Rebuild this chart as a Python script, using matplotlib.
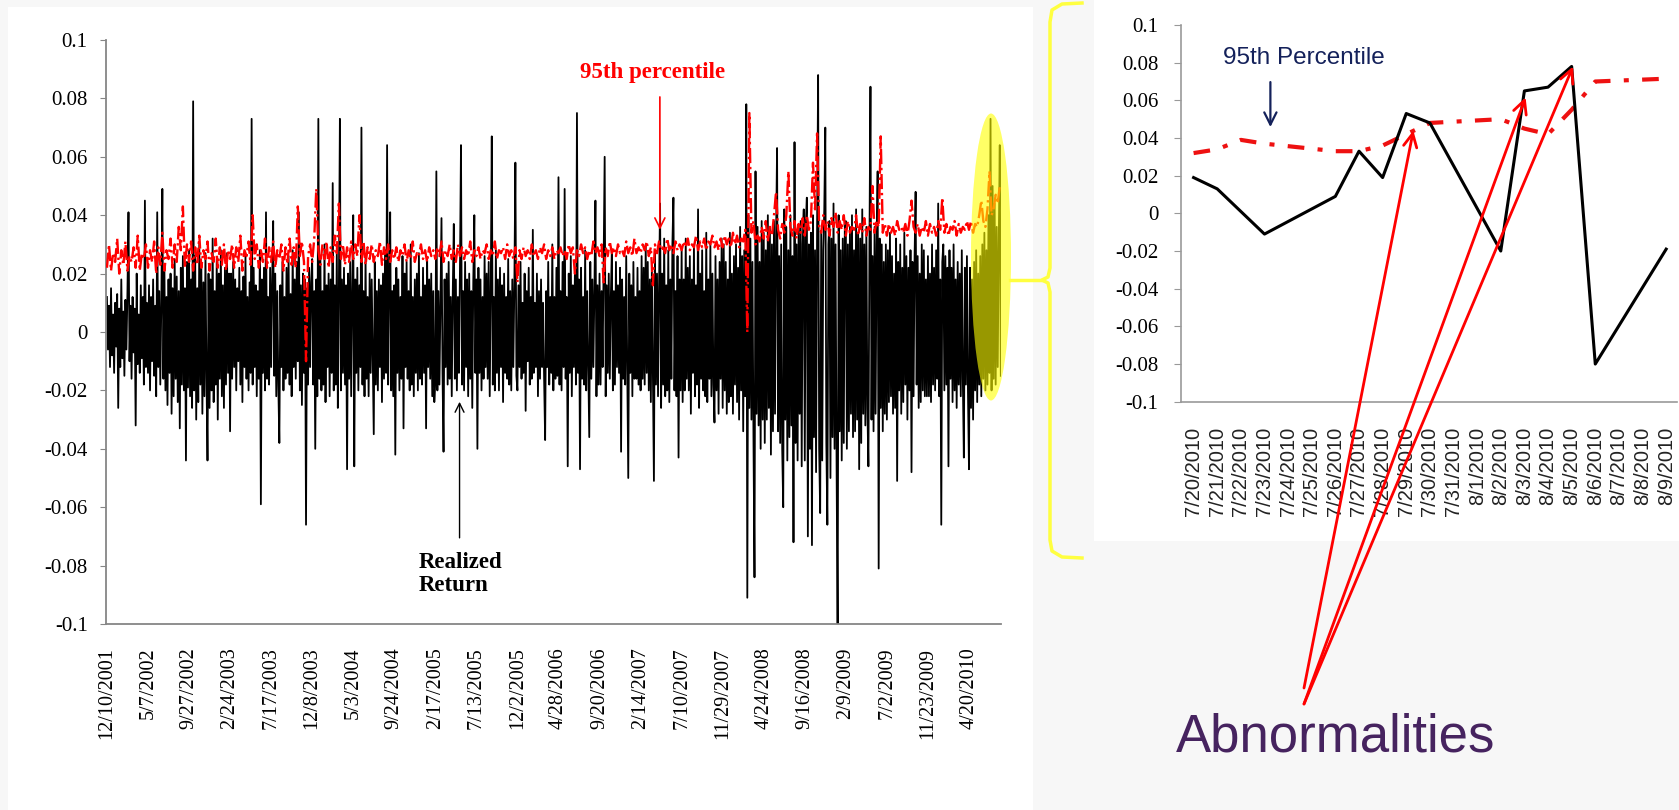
import numpy as np
import matplotlib.pyplot as plt
from matplotlib.patches import Ellipse, Rectangle
from matplotlib.lines import Line2D

W, H = 1679, 810

# ---------- data: left chart, read in 1/1000 ----------
# realized return, about 40 samples per tick interval
ret_rows = [
    [12, -6, 9, -12, 15, -8, 6, -14, 10, -5, 13, -26, 8, -12, 18, -9, 7, -15, 11, -6,
     14, 41, -10, 9, -16, 12, -7, 8, -32, 20, -11, 6, -14, 16, -9, 12, -18, 45, -12, 10],
    [-14, 16, -20, 12, -10, 18, -15, 9, -22, 41, -12, 14, -18, 10, 49, -16, 22, -20, 12, -25,
     18, -14, 20, -28, 15, -22, 25, -16, 19, -24, 14, -33, 22, -18, 26, -20, 15, -44, 24, -19],
    [28, -22, 18, -26, 79, -20, 26, -30, 15, -24, 30, -18, 22, -28, 17, -22, 27, -15, -44, 20,
     -26, 18, -20, 32, -24, 14, -18, 25, -30, 20, -16, 28, -22, 16, -26, 22, -18, 27, -14, 20],
    [-34, 20, -16, 24, -12, 18, -20, 15, -10, 22, -18, 14, -24, 19, -12, 26, -16, 12, -20, 17,
     -14, 73, -18, 22, -12, 16, -22, 14, -16, 28, -59, 18, -14, 22, -20, 41, -16, 12, -18, 22],
    [-12, 18, 38, -15, 20, -22, 14, -18, -38, 16, -12, 24, -20, 12, -16, 22, -14, 26, -18, 13,
     -22, 28, -12, 18, -16, 24, -10, 41, -20, 16, -25, 20, -14, 18, -66, 15, -18, 22, -12, 17],
    [25, -18, 14, -40, 18, -22, 73, -16, 26, -20, 14, -18, 30, -24, 16, -12, 20, -22, 18, -14,
     51, -20, 16, -18, 28, -26, 14, 73, -20, 18, -14, 22, -18, 16, -47, 20, -16, 24, -22, 14],
    [40, -46, 18, -14, 22, -20, 16, -12, 70, -18, 14, -22, 26, -16, 12, -22, 20, -14, 18, -10,
     -35, 24, -18, 14, -20, 18, -12, 16, -24, 20, -16, 28, -14, 64, -18, 16, 41, -20, 14, -22],
    [16, -42, 22, -14, 18, -20, 12, -16, 26, -33, 20, -12, 24, -16, 14, -20, 30, -18, 12, -22,
     18, -14, 20, -20, 27, -16, 12, -18, 22, -14, 16, -33, 25, -12, 18, -16, 20, -22, 14, -24],
    [-16, 55, -20, 14, -18, 12, 39, -14, -41, 18, -12, 20, -18, 24, -16, 12, -22, 14, 37, -16,
     18, -20, 12, -14, 22, 64, -18, 14, -20, 24, -12, 18, -22, 20, -16, 14, -26, 18, 40, -14],
    [18, -40, 22, -14, 18, -20, 12, -16, 26, -12, 20, -16, 24, -22, 14, 67, -18, 12, -20, 28,
     -14, 18, -20, 22, -12, 16, -24, 20, -14, 12, -16, 25, -18, 14, -20, 18, -12, 16, 58, -15],
    [-20, 16, -12, 24, -16, 10, -14, 20, -27, 14, -10, 22, -18, 12, -16, 35, -14, 10, -12, 20,
     -22, 14, -16, 18, -12, 10, -16, -37, 14, -12, 24, -18, 12, -14, 30, -20, 12, -16, 22, -15],
    [53, -18, 14, -20, 24, -12, 49, -16, 12, -46, 20, -14, 26, -22, 16, -12, 20, -18, 75, -14,
     18, -47, 22, -16, 12, -18, 28, -20, 14, -12, -36, 24, -16, 18, -12, 14, 45, -22, 16, -18],
    [20, -18, 14, -12, 26, 60, -22, 16, -14, 20, -16, 12, 28, -20, 14, -18, 24, -12, 16, -14,
     22, -41, 18, -16, 12, -18, 26, -12, -50, 20, -14, 16, -22, 24, -16, 12, -16, 22, -18, 14],
    [-20, 26, -16, 22, -18, 30, -14, 24, -20, 18, -24, 22, -16, -51, 28, -18, 20, -22, 16, 44,
     -26, 20, -18, 32, -22, 16, -20, 28, -24, 18, -16, 30, 46, -20, 14, -22, 26, -43, 18, -20],
    [28, -24, 18, -20, 32, -16, 22, -20, 26, -28, 18, -14, 30, -22, 16, -18, 42, -26, 20, -16,
     28, -20, 14, -22, 34, -24, 18, -16, 30, -22, 20, -18, -31, 26, -20, 18, -28, 24, -16, 32],
    [-26, 30, -20, 24, -28, 18, -24, 34, -22, 20, -28, 26, -18, 30, -24, 22, -30, 36, -20, 26,
     -34, 28, -22, 78, -91, 40, -26, 32, -30, 24, -36, -84, 55, -28, 36, -32, 24, -40, 38, -30],
    [34, -38, 28, -30, 40, -26, 36, -42, 30, -34, 38, -28, 32, 63, -34, 26, -38, 30, -40, -60,
     42, -30, 36, -44, 28, -36, 40, -32, 26, -72, 65, -38, 30, -44, 36, -28, 38, -46, 30, 42],
    [-44, 36, 46, -70, 30, -40, 34, -73, 40, -36, 28, -48, 36, 88, -40, -62, 34, -44, 28, 42,
     70, -38, -66, 30, 38, -50, 32, -36, 44, -40, 30, -46, -102, 40, -34, 28, -44, 32, -38, 36],
    [38, -40, 30, -34, 36, -28, 40, -36, 28, -34, 42, -30, 34, -47, 32, -38, 42, -28, 30, -32,
     36, -26, -46, 30, 84, -30, 26, -34, 36, -28, 30, 55, -81, 32, -26, 30, -34, 24, -28, 30],
    [-30, 28, -24, 34, -22, 26, -28, 20, -26, 32, -51, 24, -20, 30, -28, 22, -24, 34, -18, 26,
     -30, 22, -20, 28, -48, 24, -22, 26, 48, -18, 26, -26, 20, -24, 30, -20, 28, -22, 18, -22],
    [26, -22, 20, -24, 30, -18, 22, -20, 28, -16, 44, -22, 18, -66, 24, 30, -20, 26, -18, 22,
     -46, 28, -16, 22, -24, 30, -20, 18, -26, 24, -18, 20, -22, 28, -16, -43, 22, -18, 26, -20],
    [-47, 22, -26, 18, -30, 24, -20, 28, -24, 20, -18, 26, -22, 30, -16, 34, -20, 28, -18, 40,
     -14, 73, -20, 50, -16, 44, -18, 36, -12, 30, 64, -15],
]
# 95th percentile, about 20 samples per tick interval
pct_rows = [
    [22, 30, 21, 27, 24, 32, 20, 28, 23, 31, 21, 26, 24, 29, 22, 33, 21, 27, 25, 30],
    [22, 28, 24, 31, 20, 29, 23, 34, 21, 28, 25, 32, 22, 30, 24, 36, 28, 43, 22, 30],
    [24, 31, 21, 29, 23, 33, 22, 28, 25, 31, 21, 27, 24, 32, 22, 29, 23, 30, 21, 28],
    [25, 30, 22, 29, 24, 33, 21, 28, 26, 31, 23, 40, 25, 30, 22, 28, 24, 32, 22, 29],
    [24, 31, 22, 28, 25, 30, 21, 29, 24, 32, 23, 29, 22, 43, 26, 31, 24, -10, 26, 30],
    [24, 32, 49, 28, 23, 30, 25, 31, 22, 29, 24, 33, 27, 44, 25, 30, 23, 29, 24, 31],
    [25, 30, 26, 40, 24, 31, 23, 29, 25, 30, 24, 28, 26, 31, 23, 29, 25, 30, 24, 28],
    [25, 29, 24, 28, 26, 30, 24, 28, 25, 31, 24, 27, 26, 30, 25, 28, 24, 29, 26, 28],
    [25, 29, 26, 31, 24, 28, 26, 30, 25, 28, 24, 30, 26, 29, 25, 28, 26, 31, 24, 28],
    [26, 29, 25, 28, 27, 30, 25, 28, 26, 31, 25, 28, 27, 29, 25, 30, 26, 28, 25, 29],
    [17, 28, 25, 29, 26, 28, 25, 30, 26, 28, 25, 29, 27, 30, 25, 28, 26, 29, 25, 28],
    [27, 29, 26, 28, 25, 30, 27, 29, 20, 28, 26, 30, 27, 29, 25, 28, 26, 31, 27, 29],
    [26, 30, 17, 29, 26, 31, 27, 29, 26, 30, 27, 28, 26, 31, 27, 29, 26, 32, 27, 29],
    [27, 30, 28, 31, 26, 29, 16, 30, 27, 31, 28, 29, 27, 32, 28, 30, 27, 31, 28, 30],
    [28, 31, 29, 32, 28, 30, 29, 33, 28, 31, 29, 32, 28, 31, 30, 33, 29, 31, 28, 32],
    [29, 33, 30, 32, 29, 34, 30, 33, 29, 32, 31, 35, 0, 75, 34, 38, 30, 33, 31, 36],
    [32, 38, 31, 36, 33, 40, 48, 35, 32, 37, 34, 40, 55, 36, 33, 38, 32, 37, 34, 39],
    [33, 40, 35, 38, 58, 42, 68, 36, 34, 40, 35, 38, 33, 39, 36, 41, 34, 38, 35, 40],
    [33, 38, 34, 36, 35, 40, 33, 37, 34, 39, 33, 36, 35, 50, 34, 38, 36, 67, 34, 37],
    [33, 37, 34, 36, 33, 38, 35, 36, 34, 37, 33, 38, 45, 36, 34, 37, 33, 36, 34, 38],
    [33, 37, 34, 36, 33, 38, 35, 46, 34, 37, 33, 36, 35, 38, 33, 37, 34, 36, 35, 38],
    [35, 38, 34, 37, 36, 40, 45, 38, 36, 42, 55, 40, 42, 47, 44, 50],
]
tick_dates = ['12/10/2001', '5/7/2002', '9/27/2002', '2/24/2003', '7/17/2003',
              '12/8/2003', '5/3/2004', '9/24/2004', '2/17/2005', '7/13/2005',
              '12/2/2005', '4/28/2006', '9/20/2006', '2/14/2007', '7/10/2007',
              '11/29/2007', '4/24/2008', '9/16/2008', '2/9/2009', '7/2/2009',
              '11/23/2009', '4/20/2010']

# ---------- data: right chart (zoom on 7/20/2010 - 8/9/2010) ----------
zoom_dates = ['7/20/2010', '7/21/2010', '7/22/2010', '7/23/2010', '7/24/2010',
              '7/25/2010', '7/26/2010', '7/27/2010', '7/28/2010', '7/29/2010',
              '7/30/2010', '7/31/2010', '8/1/2010', '8/2/2010', '8/3/2010',
              '8/4/2010', '8/5/2010', '8/6/2010', '8/7/2010', '8/8/2010', '8/9/2010']
zoom_ret = [0.019, 0.013, 0.001, -0.011, None, None, 0.009, 0.033, 0.019, 0.053,
            0.048, None, None, -0.020, 0.065, 0.067, 0.078, -0.080, None, None, -0.019]
zoom_pct = [0.032, 0.034, 0.039, 0.037, None, None, 0.033, 0.033, 0.036, 0.042,
            0.048, None, None, 0.050, 0.045, 0.042, 0.055, 0.070, None, None, 0.0715]

yticks = [-0.1, -0.08, -0.06, -0.04, -0.02, 0, 0.02, 0.04, 0.06, 0.08, 0.1]
ytick_labels = ['-0.1', '-0.08', '-0.06', '-0.04', '-0.02', '0',
                '0.02', '0.04', '0.06', '0.08', '0.1']

ret = np.concatenate([np.array(r, float) for r in ret_rows]) / 1000
pct = np.concatenate([np.array(r, float) for r in pct_rows]) / 1000
x_ret = np.arange(len(ret)) / 40
x_pct = np.arange(len(pct)) / 20


def fx(px):
    return px / W


def fy(py):
    return 1 - py / H


fig = plt.figure(figsize=(W / 100, H / 100), dpi=100, facecolor='#f7f7f7')

# white panels
fig.add_artist(Rectangle((fx(8), 0), fx(1033 - 8), 1 - 7 / H, transform=fig.transFigure,
                         facecolor='white', edgecolor='none', zorder=-10))
fig.add_artist(Rectangle((fx(1094), fy(541)), fx(W - 1094), 541 / H, transform=fig.transFigure,
                         facecolor='white', edgecolor='none', zorder=-10))

# ---------- left chart ----------
ax = fig.add_axes([fx(105.7), fy(624), fx(1001 - 105.7), (624 - 40) / H])
ax.set_facecolor('none')
ax.plot(x_ret, ret, color='black', lw=1.3, zorder=2)
ax.plot(x_pct, pct, color='red', ls='-.', lw=1.7, zorder=3)
ax.set_xlim(-0.03, 21.78)
ax.set_ylim(-0.1, 0.1)
ax.set_yticks(yticks)
ax.set_yticklabels(ytick_labels, family='Liberation Serif', fontsize=15)
ax.set_xticks(range(len(tick_dates)))
ax.set_xticklabels(tick_dates, rotation=90, family='Liberation Serif', fontsize=14.5)
ax.tick_params(axis='x', length=0, pad=17)
ax.tick_params(axis='y', length=4, pad=9, color='#868686')
for s in ['top', 'right']:
    ax.spines[s].set_visible(False)
for s in ['left', 'bottom']:
    ax.spines[s].set_color('#868686')
    ax.spines[s].set_linewidth(1.3)

ax.text(13.28, 0.0887, '95th percentile', color='red', fontsize=16.5, fontweight='bold',
        family='Liberation Serif', ha='center', va='center')
ax.annotate('', xy=(13.47, 0.035), xytext=(13.47, 0.0805),
            arrowprops=dict(arrowstyle='->', color='red', lw=1.2, mutation_scale=18,
                            shrinkA=0, shrinkB=0))
ax.text(7.59, -0.0829, 'Realized\nReturn', color='black', fontsize=16.5, fontweight='bold',
        family='Liberation Serif', ha='left', va='center', linespacing=1.15)
ax.annotate('', xy=(8.59, -0.0239), xytext=(8.59, -0.0705),
            arrowprops=dict(arrowstyle='->', color='black', lw=1.0, mutation_scale=16,
                            shrinkA=0, shrinkB=0))

# yellow highlight and bracket
fig.add_artist(Ellipse((fx(991), fy(257)), 40 / W, 287 / H, transform=fig.transFigure,
                       facecolor='#ffff00', edgecolor='none', alpha=0.6, zorder=5))
br = [(1082, 3), (1062, 4), (1052, 10), (1050, 22), (1050, 268), (1048, 277), (1042, 280),
      (1048, 283), (1050, 292), (1050, 540), (1052, 551), (1062, 557), (1082, 558)]
fig.add_artist(Line2D([fx(p[0]) for p in br], [fy(p[1]) for p in br], transform=fig.transFigure,
                      color='#ffff40', lw=2.5, zorder=5))
fig.add_artist(Line2D([fx(1010), fx(1042)], [fy(280), fy(280)], transform=fig.transFigure,
                      color='#ffff40', lw=2.5, zorder=5))

# ---------- right chart ----------
axr = fig.add_axes([fx(1180.6), fy(401.7), fx(1676.8 - 1180.6), (401.7 - 25) / H])
axr.set_facecolor('none')
ir = [i for i, v in enumerate(zoom_ret) if v is not None]
ip = [i for i, v in enumerate(zoom_pct) if v is not None]
axr.plot(ir, [zoom_ret[i] for i in ir], color='black', lw=2.2, zorder=3)
axr.plot(ip, [zoom_pct[i] for i in ip], color='#ee1111', lw=3, ls=(0, (4, 3.2, 1.2, 3.2)), zorder=2)
axr.set_xlim(-0.55, 20.45)
axr.set_ylim(-0.1, 0.1)
axr.set_yticks(yticks)
axr.set_yticklabels(ytick_labels, family='Liberation Serif', fontsize=15)
axr.set_xticks(range(len(zoom_dates)))
axr.set_xticklabels(zoom_dates, rotation=90, family='Liberation Sans', fontsize=14.5, color='#222222')
axr.tick_params(axis='x', length=0, pad=18)
axr.tick_params(axis='y', length=5, pad=11, color='#999999')
for s in ['top', 'right']:
    axr.spines[s].set_visible(False)
for s in ['left', 'bottom']:
    axr.spines[s].set_color('#999999')
    axr.spines[s].set_linewidth(1.2)

axr.text(4.66, 0.0825, '95th Percentile', color='#14215a', fontsize=17.5,
         family='Liberation Sans', ha='center', va='center')
axr.annotate('', xy=(3.25, 0.0458), xytext=(3.25, 0.0697),
             arrowprops=dict(arrowstyle='->', color='#14215a', lw=1.6, mutation_scale=22,
                             shrinkA=0, shrinkB=0))

# abnormalities callouts
targets = [((9.3, 0.044), 688), ((14.05, 0.0616), 704), ((16.06, 0.078), 704)]
for xy, oy in targets:
    axr.annotate('', xy=xy, xycoords='data', xytext=(1304, H - oy), textcoords='figure pixels',
                 arrowprops=dict(arrowstyle='->', color='red', lw=2, mutation_scale=24,
                                 shrinkA=0, shrinkB=0), annotation_clip=False)
fig.text(fx(1176), fy(752), 'Abnormalities', color='#46235f', fontsize=38,
         family='Liberation Sans', ha='left', va='baseline')

fig.savefig('out.png', dpi=100, facecolor=fig.get_facecolor())
